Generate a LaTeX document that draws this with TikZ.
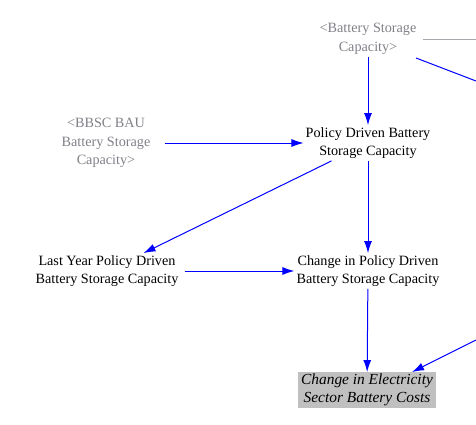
\documentclass[tikz,border=0pt]{standalone}
\usepackage{fontspec}
\setmainfont{Liberation Serif}
\usetikzlibrary{arrows.meta}
\definecolor{shadowgray}{RGB}{128,128,136}
\definecolor{boxgray}{RGB}{192,192,192}

\tikzset{
  var/.style={align=center,font=\fontsize{14.2}{18.5}\selectfont,inner sep=2pt},
  shadow/.style={var,text=shadowgray},
  outvar/.style={var,fill=boxgray,font=\fontsize{15.4}{18.5}\selectfont\itshape,inner xsep=3pt,inner ysep=1.5pt},
  link/.style={blue,line width=1pt,-{Latex[length=12pt,width=8pt]}}
}

\begin{document}
\begin{tikzpicture}[x=1pt,y=-1pt]
\useasboundingbox (0,0) rectangle (476,425);
% variables
\node[shadow] (bsc) at (368,39) {<Battery Storage\\Capacity>};
\node[shadow] (bbsc) at (106,143) {<BBSC BAU\\Battery Storage\\Capacity>};
\node[var] (pdbsc) at (368,143) {Policy Driven Battery\\Storage Capacity};
\node[var] (lypd) at (107,271) {Last Year Policy Driven\\Battery Storage Capacity};
\node[var] (cpd) at (368,271) {Change in Policy Driven\\Battery Storage Capacity};
\node[outvar] (cesbc) at (367,390) {Change in Electricity\\Sector Battery Costs};
% cut off at the right
\coordinate (gl) at (423,39);
\coordinate (gr) at (476,39);
\coordinate (tl) at (416,58);
\coordinate (tr) at (476,81);
\coordinate (br) at (476,340);
\draw[shadowgray!70] (gl) -- (gr);
\draw[blue,line width=1pt] (tl) -- (tr);
% links
\draw[link] (bsc) -- (pdbsc);
\draw[link,shorten <=12pt] (bbsc) -- (pdbsc);
\draw[link] (pdbsc) -- (lypd);
\draw[link] (pdbsc) -- (cpd);
\draw[link,shorten <=4pt] (lypd) -- (cpd);
\draw[link] (cpd) -- (cesbc);
\draw[link] (br) -- ([xshift=45pt]cesbc.north);
\end{tikzpicture}
\end{document}
